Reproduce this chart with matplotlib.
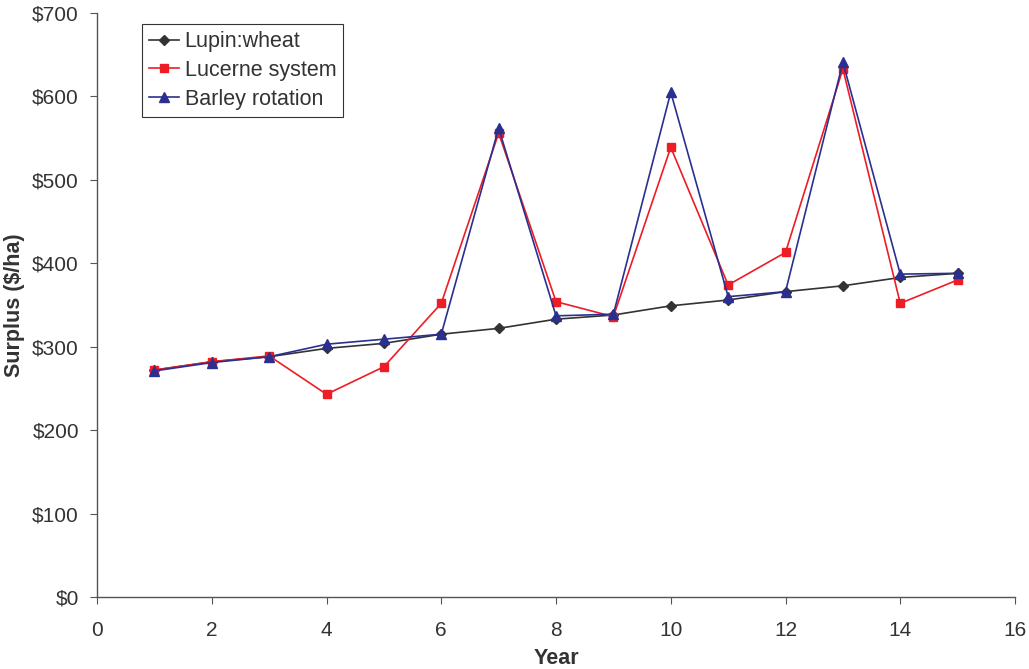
import matplotlib
matplotlib.use("Agg")
import matplotlib.pyplot as plt

plt.rcParams['font.family'] = ['Liberation Sans', 'DejaVu Sans']

years = list(range(1, 16))
lupin_wheat = [272, 282, 288, 298, 304, 315, 322, 333, 338, 349, 356, 366, 373, 383, 388]
lucerne = [272, 282, 289, 243, 276, 352, 556, 354, 336, 539, 374, 413, 633, 352, 380]
barley = [271, 281, 288, 303, 309, 315, 562, 337, 339, 605, 360, 366, 641, 387, 388]
xticks = list(range(0, 17, 2))
yticks = list(range(0, 701, 100))

text_color = '#333333'
axis_color = '#555555'

fig = plt.figure(figsize=(10.29, 6.69), dpi=100)
ax = fig.add_axes([0.0943, 0.1076, 0.8921, 0.873])

ax.plot(years, lupin_wheat, color='#333333', marker='D', markersize=5, lw=1.2, label='Lupin:wheat')
ax.plot(years, lucerne, color='#ee1c25', marker='s', markersize=6, lw=1.2, label='Lucerne system')
ax.plot(years, barley, color='#2b3090', marker='^', markersize=7, lw=1.2, label='Barley rotation')

ax.set_xlim(0, 16)
ax.set_ylim(0, 700)
ax.set_xticks(xticks)
ax.set_yticks(yticks)
ax.set_yticklabels([f'${v}' for v in yticks])
ax.spines['top'].set_visible(False)
ax.spines['right'].set_visible(False)
for s in ('left', 'bottom'):
    ax.spines[s].set_color(axis_color)
    ax.spines[s].set_linewidth(1.0)
ax.tick_params(direction='out', labelsize=15, length=5, color=axis_color, labelcolor=text_color)
ax.tick_params(axis='y', pad=8)
ax.tick_params(axis='x', pad=12)
ax.set_xlabel('Year', fontsize=15.5, fontweight='bold', labelpad=6, color=text_color)
ax.set_ylabel('Surplus ($/ha)', fontsize=15.5, fontweight='bold', color=text_color)
ax.yaxis.set_label_coords(-0.0784, 0.5)

leg = ax.legend(loc='upper left', bbox_to_anchor=(0.049, 0.981), prop={'size': 15.5}, frameon=True,
                fancybox=False, edgecolor='black', handlelength=1.4, handletextpad=0.25,
                borderpad=0.33, labelspacing=0.36, borderaxespad=0)
leg.get_frame().set_linewidth(0.8)
for t in leg.get_texts():
    t.set_color(text_color)

fig.savefig('out.png', dpi=100)
